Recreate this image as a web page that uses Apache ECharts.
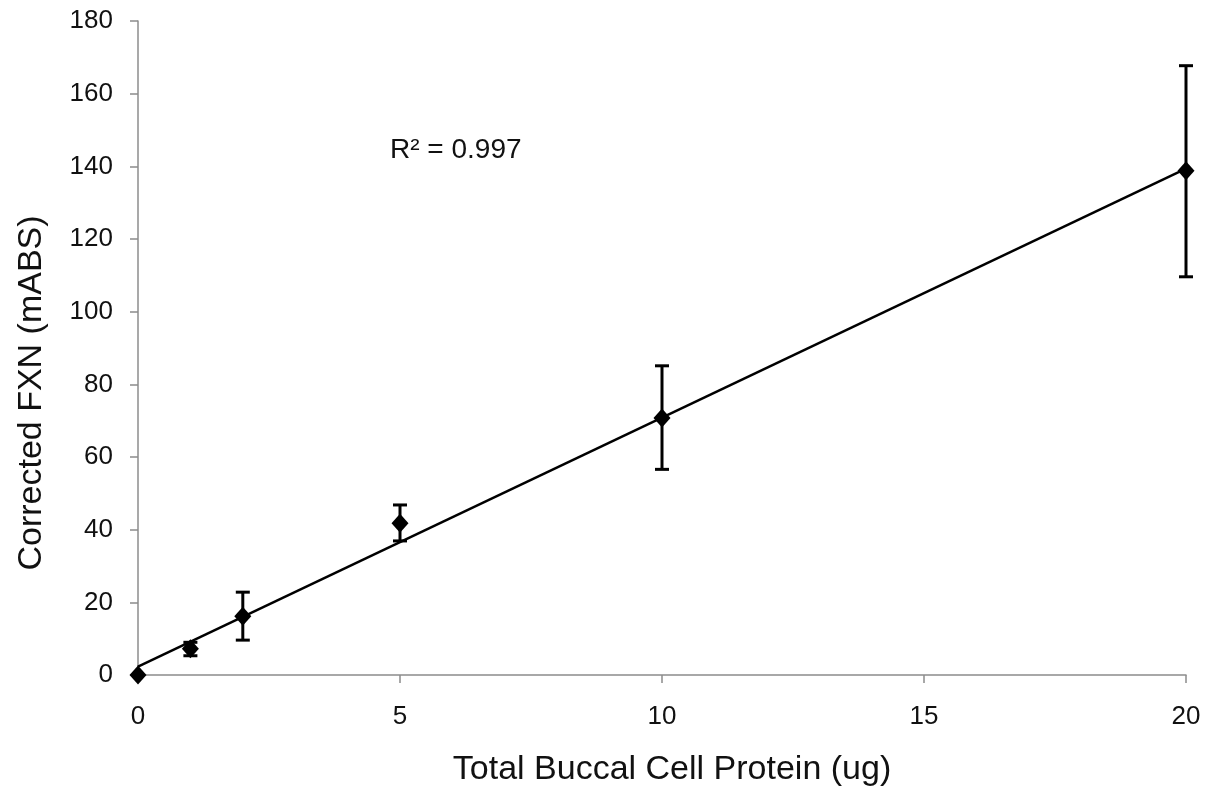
<!DOCTYPE html>
<html>
<head>
<meta charset="utf-8">
<script src="https://cdn.jsdelivr.net/npm/echarts@6/dist/echarts.min.js"></script>
<style>
  html, body { margin: 0; padding: 0; background: #fff; }
  #main { width: 1219px; height: 789px; }
</style>
</head>
<body>
<div id="main"></div>
<script>
// data
const protein = [0, 1, 2, 5, 10, 20]
const fxn = [0, 7.2, 16.2, 41.8, 70.7, 138.8]
const errLow = [0, 5.3, 9.6, 36.9, 56.6, 109.6]
const errHigh = [0, 9.0, 22.8, 46.8, 85.1, 167.7]
// trendline ends (as drawn)
const trendX = [0, 20]
const trendY = [2.3, 139.4]

const font = '"Liberation Sans", Arial, sans-serif'
const axisGray = '#8c8c8c'

let chart = echarts.init(document.getElementById('main'))

let errData = []
for (let i in protein) {
  errData.push([protein[i], errLow[i], errHigh[i]])
}

let option = {
  backgroundColor: '#fff',
  animation: false,
  grid: {
    left: 138,
    right: 33,
    top: 21,
    bottom: 114,
  },
  xAxis: {
    type: 'value',
    min: 0,
    max: 20,
    interval: 5,
    splitLine: { show: false },
    axisLine: { onZero: false, lineStyle: { color: axisGray, width: 1.5 } },
    axisTick: { show: true, length: 8, lineStyle: { color: axisGray, width: 1.5 } },
    axisLabel: { color: '#111', fontSize: 26, fontFamily: font, margin: 29 },
  },
  yAxis: {
    type: 'value',
    min: 0,
    max: 180,
    interval: 20,
    splitLine: { show: false },
    axisLine: { show: true, lineStyle: { color: axisGray, width: 1.5 } },
    axisTick: { show: true, length: 8, lineStyle: { color: axisGray, width: 1.5 } },
    axisLabel: { color: '#111', fontSize: 26, fontFamily: font, margin: 25 },
  },
  graphic: [
    {
      type: 'text',
      x: 672,
      y: 770,
      style: {
        text: 'Total Buccal Cell Protein (ug)',
        fill: '#111',
        font: '34px ' + font,
        align: 'center',
        verticalAlign: 'middle',
      }
    },
    {
      type: 'text',
      x: 32,
      y: 393,
      rotation: Math.PI / 2,
      style: {
        text: 'Corrected FXN (mABS)',
        fill: '#111',
        font: '34px ' + font,
        align: 'center',
        verticalAlign: 'middle',
      }
    },
    {
      type: 'text',
      x: 390,
      y: 150,
      style: {
        text: 'R² = 0.997',
        fill: '#111',
        font: '28px ' + font,
        align: 'left',
        verticalAlign: 'middle',
      }
    }
  ],
  series: [
    {
      name: 'trend',
      type: 'line',
      symbol: 'none',
      lineStyle: { color: '#000', width: 2.5 },
      data: [[trendX[0], trendY[0]], [trendX[1], trendY[1]]],
      z: 2,
    },
    {
      name: 'error',
      type: 'custom',
      z: 3,
      renderItem: function (params, api) {
        let x = api.value(0)
        let lo = api.coord([x, api.value(1)])
        let hi = api.coord([x, api.value(2)])
        if (Math.abs(lo[1] - hi[1]) < 1) return
        let cap = 7
        let style = { stroke: '#000', lineWidth: 3 }
        return {
          type: 'group',
          children: [
            { type: 'line', shape: { x1: lo[0], y1: lo[1], x2: hi[0], y2: hi[1] }, style: style },
            { type: 'line', shape: { x1: lo[0] - cap, y1: lo[1], x2: lo[0] + cap, y2: lo[1] }, style: style },
            { type: 'line', shape: { x1: hi[0] - cap, y1: hi[1], x2: hi[0] + cap, y2: hi[1] }, style: style },
          ]
        }
      },
      encode: { x: 0, y: [1, 2] },
      data: errData,
    },
    {
      name: 'FXN',
      type: 'scatter',
      symbol: 'diamond',
      symbolSize: [17, 19],
      itemStyle: { color: '#000', opacity: 1 },
      z: 4,
      data: protein.map((x, i) => [x, fxn[i]]),
    }
  ]
}

chart.setOption(option)
</script>
</body>
</html>
